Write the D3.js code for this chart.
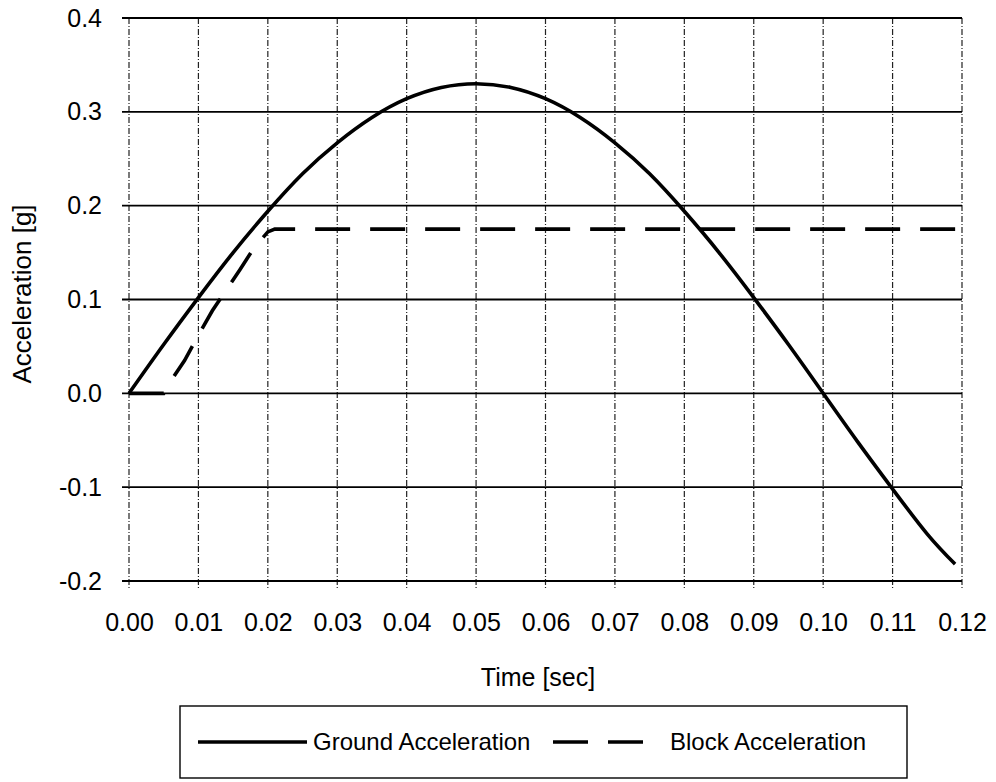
<!DOCTYPE html>
<html>
<head>
<meta charset="utf-8">
<script src="https://cdn.jsdelivr.net/npm/d3@7"></script>
<style>
  body { margin: 0; background: #fff; }
  svg text { font-family: Arial, "Liberation Sans", sans-serif; fill: #000; }
</style>
</head>
<body>
<script>
// values
var groundTime = [0, 0.005, 0.01, 0.015, 0.02, 0.025, 0.03, 0.035, 0.04, 0.045, 0.05,
                  0.055, 0.06, 0.065, 0.07, 0.075, 0.08, 0.085, 0.09, 0.095, 0.10,
                  0.105, 0.11, 0.115, 0.119];
var groundAcc = [0, 0.052, 0.102, 0.150, 0.194, 0.234, 0.267, 0.294, 0.314, 0.326, 0.330,
                 0.326, 0.314, 0.294, 0.267, 0.234, 0.194, 0.150, 0.102, 0.052, 0.0,
                 -0.052, -0.102, -0.150, -0.182];

var blockTime = [0, 0.005, 0.006, 0.008, 0.010, 0.012, 0.014, 0.016, 0.018, 0.020, 0.021, 0.12];
var blockAcc  = [0, 0, 0.013, 0.035, 0.062, 0.088, 0.110, 0.132, 0.155, 0.172, 0.175, 0.175];

var xTicks = [0, 0.01, 0.02, 0.03, 0.04, 0.05, 0.06, 0.07, 0.08, 0.09, 0.10, 0.11, 0.12];
var yTicks = [-0.2, -0.1, 0.0, 0.1, 0.2, 0.3, 0.4];

var W = 996, H = 782,
    plotL = 129, plotR = 962, plotT = 18, plotB = 581;

var svg = d3.select("body").append("svg")
    .attr("width", W)
    .attr("height", H);

var x = d3.scaleLinear().domain([0, 0.12]).range([plotL, plotR]);
var y = d3.scaleLinear().domain([-0.2, 0.4]).range([plotB, plotT]);

// plain hyphen for negatives, like the original
var fmtY = function(d){ return d3.format(".1f")(d).replace("\u2212", "-"); };

// vertical grid (dashed) with ticks below the plot
svg.append("g")
  .selectAll("line")
  .data(xTicks)
  .enter().append("line")
    .attr("x1", function(d){ return x(d); })
    .attr("x2", function(d){ return x(d); })
    .attr("y1", plotT)
    .attr("y2", plotB + 8)
    .attr("stroke", "#222")
    .attr("stroke-width", 1.2)
    .attr("stroke-dasharray", "6,2,1,2");

// horizontal grid (solid) with ticks to the left
svg.append("g")
  .selectAll("line")
  .data(yTicks)
  .enter().append("line")
    .attr("x1", plotL - 7)
    .attr("x2", plotR)
    .attr("y1", function(d){ return y(d); })
    .attr("y2", function(d){ return y(d); })
    .attr("stroke", "#000")
    .attr("stroke-width", 1.8);

// tick labels via d3 axes (axis lines hidden, grid drawn above)
var xAxis = svg.append("g")
    .attr("transform", "translate(0," + plotB + ")")
    .call(d3.axisBottom(x).tickValues(xTicks).tickFormat(d3.format(".2f")).tickSize(0).tickPadding(32));
xAxis.select(".domain").remove();
xAxis.selectAll("text")
    .style("font-size", "25px")
    .style("font-family", "Arial, 'Liberation Sans', sans-serif");

var yAxis = svg.append("g")
    .attr("transform", "translate(" + plotL + ",0)")
    .call(d3.axisLeft(y).tickValues(yTicks).tickFormat(fmtY).tickSize(0).tickPadding(27));
yAxis.select(".domain").remove();
yAxis.selectAll("text")
    .style("font-size", "25px")
    .style("font-family", "Arial, 'Liberation Sans', sans-serif");

// axis titles
svg.append("text")
    .attr("x", 538)
    .attr("y", 686)
    .attr("text-anchor", "middle")
    .style("font-size", "25px")
    .text("Time [sec]");

svg.append("text")
    .attr("transform", "translate(31,294) rotate(-90)")
    .attr("text-anchor", "middle")
    .style("font-size", "26px")
    .text("Acceleration [g]");

// series
var line = d3.line()
    .x(function(d){ return x(d[0]); })
    .y(function(d){ return y(d[1]); });

svg.append("path")
    .datum(d3.zip(groundTime, groundAcc))
    .attr("d", line.curve(d3.curveNatural))
    .attr("fill", "none")
    .attr("stroke", "#000")
    .attr("stroke-width", 3.6);

svg.append("path")
    .datum(d3.zip(blockTime, blockAcc))
    .attr("d", line.curve(d3.curveLinear))
    .attr("fill", "none")
    .attr("stroke", "#000")
    .attr("stroke-width", 3.6)
    .attr("stroke-dasharray", "35,20");

// legend
var legend = svg.append("g");
legend.append("rect")
    .attr("x", 180).attr("y", 706)
    .attr("width", 727).attr("height", 72)
    .attr("fill", "none")
    .attr("stroke", "#000")
    .attr("stroke-width", 1.4);

legend.append("line")
    .attr("x1", 198).attr("x2", 307)
    .attr("y1", 742).attr("y2", 742)
    .attr("stroke", "#000").attr("stroke-width", 3.6);
legend.append("text")
    .attr("x", 313).attr("y", 750)
    .style("font-size", "24px")
    .text("Ground Acceleration");

legend.append("line")
    .attr("x1", 553).attr("x2", 643)
    .attr("y1", 742).attr("y2", 742)
    .attr("stroke", "#000").attr("stroke-width", 3.6)
    .attr("stroke-dasharray", "35,20");
legend.append("text")
    .attr("x", 670).attr("y", 750)
    .style("font-size", "24px")
    .text("Block Acceleration");
</script>
</body>
</html>
